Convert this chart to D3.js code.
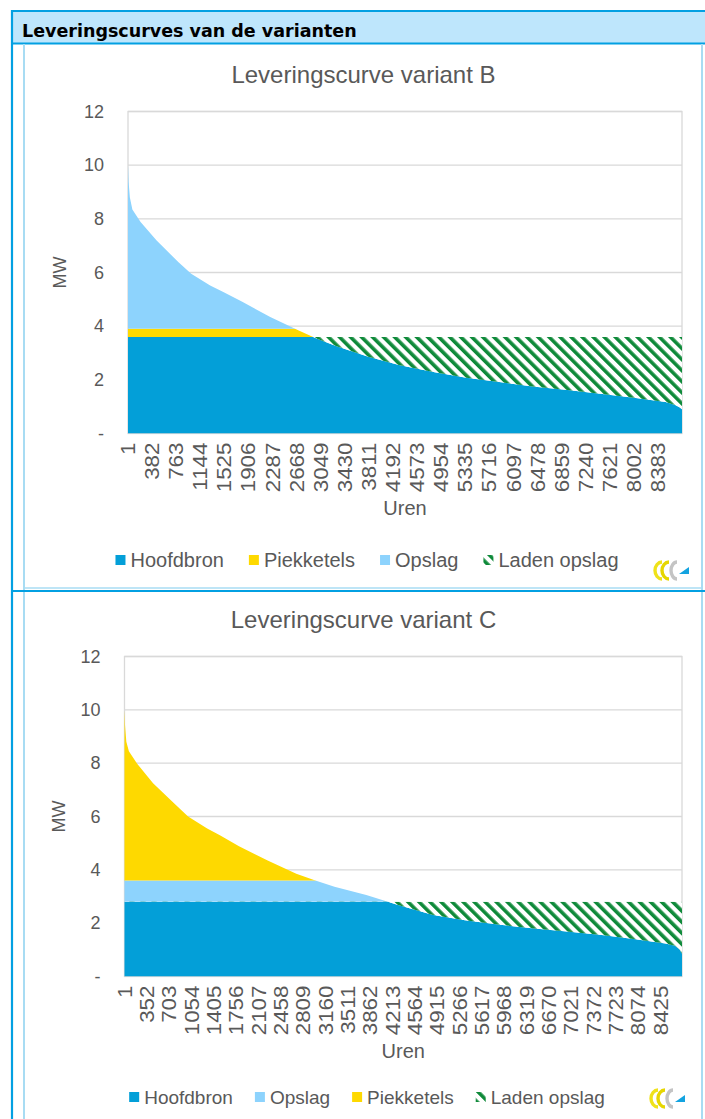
<!DOCTYPE html>
<html><head><meta charset="utf-8">
<script src="https://cdn.jsdelivr.net/npm/d3@7/dist/d3.min.js"></script>
<style>
body{margin:0;background:#fff;}
svg{display:block;}
</style>
</head><body>
<svg id="c" width="705" height="1119"></svg>
<script>
// ---- data ----
const hours   = [1,10,30,70,200,450,800,1000,1300,1500,1800,2250,2700,3000,3300,3800,4300,4850,5350,5900,6400,6950,7500,8000,8500,8650,8720,8760];
const demandB = [10.0,9.4,8.8,8.35,7.88,7.2,6.38,5.95,5.52,5.28,4.92,4.34,3.84,3.52,3.25,2.86,2.54,2.28,2.08,1.91,1.75,1.62,1.47,1.33,1.17,1.06,0.98,0.9];
const demandC = [10.0,9.4,8.8,8.45,7.98,7.25,6.45,6.0,5.55,5.3,4.88,4.35,3.85,3.6,3.37,3.06,2.68,2.31,2.11,1.94,1.81,1.69,1.56,1.41,1.24,1.15,1.02,0.85];
const yTicks  = [0,2,4,6,8,10,12];
const yTickLabels = ["-","2","4","6","8","10","12"];
const xLabelsB = [1,382,763,1144,1525,1906,2287,2668,3049,3430,3811,4192,4573,4954,5335,5716,6097,6478,6859,7240,7621,8002,8383];
const xLabelsC = [1,352,703,1054,1405,1756,2107,2458,2809,3160,3511,3862,4213,4564,4915,5266,5617,5968,6319,6670,7021,7372,7723,8074,8425];
// layer levels (MW): [series, from, to]
const bandsB = [["Hoofdbron",0,3.6],["Piekketels",3.6,3.9],["Opslag",3.9,12]];
const bandsC = [["Hoofdbron",0,2.8],["Opslag",2.8,3.6],["Piekketels",3.6,12]];
const chargeLevelB = 3.6;
const chargeLevelC = 2.8;
const legendB = ["Hoofdbron","Piekketels","Opslag","Laden opslag"];
const legendC = ["Hoofdbron","Opslag","Piekketels","Laden opslag"];
const colors = {"Hoofdbron":"#039fd8","Piekketels":"#fed900","Opslag":"#8dd3fd"};

const FONT = '"Liberation Sans", Arial, sans-serif';
const svg = d3.select("#c");
const defs = svg.append("defs");
const pat = defs.append("pattern").attr("id","hatch").attr("patternUnits","userSpaceOnUse")
  .attr("width",7.8).attr("height",7.8).attr("patternTransform","rotate(-45)");
pat.append("rect").attr("width",7.8).attr("height",7.8).attr("fill","#fff");
pat.append("rect").attr("width",3.6).attr("height",7.8).attr("fill","#0f8a3a");

// ---- frame ----
const darkBlue = "#03a0e2", lightBlue = "#a8dcf3";
svg.append("rect").attr("x",12).attr("y",11).attr("width",700).attr("height",32).attr("fill","#bee6fc");
svg.append("line").attr("x1",11).attr("x2",705).attr("y1",11).attr("y2",11).attr("stroke",darkBlue).attr("stroke-width",2.2);
svg.append("line").attr("x1",11).attr("x2",705).attr("y1",43.5).attr("y2",43.5).attr("stroke",darkBlue).attr("stroke-width",2.2);
svg.append("line").attr("x1",12).attr("x2",12).attr("y1",10).attr("y2",1119).attr("stroke",darkBlue).attr("stroke-width",2.2);
svg.append("line").attr("x1",24).attr("x2",24).attr("y1",44).attr("y2",1119).attr("stroke",lightBlue).attr("stroke-width",2);
svg.append("line").attr("x1",702).attr("x2",702).attr("y1",44).attr("y2",1119).attr("stroke",lightBlue).attr("stroke-width",2);
svg.append("line").attr("x1",24).attr("x2",702).attr("y1",588).attr("y2",588).attr("stroke",lightBlue).attr("stroke-width",1.5);
svg.append("line").attr("x1",11).attr("x2",705).attr("y1",591).attr("y2",591).attr("stroke",darkBlue).attr("stroke-width",2.2);
svg.append("text").attr("x",22).attr("y",37).style("font-family",'"DejaVu Sans", Verdana, sans-serif').attr("font-weight","bold")
  .attr("font-size",17.5).attr("fill","#000").text("Leveringscurves van de varianten");

function logo(x,y){
  const g = svg.append("g").attr("transform",`translate(${x},${y})`);
  g.append("path").attr("d","M10 1 A7 8.5 0 1 0 10 18").attr("fill","none").attr("stroke","#efe21a").attr("stroke-width",3.4);
  g.append("path").attr("d","M17 1 A7 8.5 0 1 0 17 18").attr("fill","none").attr("stroke","#e6d600").attr("stroke-width",3.4);
  g.append("path").attr("d","M25 1 A6 8.5 0 1 0 25 18").attr("fill","none").attr("stroke","#c4c4c4").attr("stroke-width",3.4);
  g.append("polygon").attr("points","27,13 37,13 37,6").attr("fill","#13a3e0");
}

function chart(cfg){
  const {id,title,titleY,left,right,top,bottom,demand,bands,charge,xLabels,legend,legendY,legendFont,legendGap,mwX} = cfg;
  const x = d3.scaleLinear().domain([1,8760]).range([left,right]);
  const y = d3.scaleLinear().domain([0,12]).range([bottom,top]);
  const g = svg.append("g").style("font-family",FONT);
  const grey = "#595959";
  g.append("text").attr("x",363.5).attr("y",titleY).attr("text-anchor","middle")
    .attr("font-size",24).attr("fill",grey).text(title);
  // gridlines
  g.selectAll(".grid").data(yTicks.filter(d=>d>0)).join("line")
    .attr("x1",left).attr("x2",right).attr("y1",d=>y(d)).attr("y2",d=>y(d))
    .attr("stroke","#d9d9d9").attr("stroke-width",1.3);
  g.append("rect").attr("x",left).attr("y",top).attr("width",right-left).attr("height",bottom-top)
    .attr("fill","none").attr("stroke","#d9d9d9").attr("stroke-width",1.3);
  const pts = hours.map((h,i)=>({h, v:demand[i]}));
  const area = d3.area().x(d=>x(d.h)).y0(y(0)).y1(d=>y(d.v));
  bands.forEach(([name,lo,hi],i)=>{
    const cid = `${id}-clip${i}`;
    defs.append("clipPath").attr("id",cid).append("rect")
      .attr("x",left-1).attr("width",right-left+2).attr("y",y(hi)).attr("height",y(lo)-y(hi));
    g.append("path").datum(pts).attr("d",area).attr("fill",colors[name]).attr("clip-path",`url(#${cid})`);
  });
  const cid2 = `${id}-clipH`;
  defs.append("clipPath").attr("id",cid2).append("rect")
    .attr("x",left-1).attr("width",right-left+2).attr("y",y(charge)).attr("height",y(0)-y(charge));
  const hatchArea = d3.area().x(d=>x(d.h)).y0(d=>y(d.v)).y1(y(charge));
  g.append("path").datum(pts).attr("d",hatchArea).attr("fill","url(#hatch)").attr("clip-path",`url(#${cid2})`);
  // y tick labels
  g.selectAll(".yl").data(yTicks).join("text")
    .attr("x",left-24).attr("y",d=>y(d)).attr("dy","0.35em").attr("text-anchor","end")
    .attr("font-size",18).attr("fill",grey).text((d,i)=>yTickLabels[i]);
  // x tick labels
  g.selectAll(".xl").data(xLabels).join("text")
    .attr("transform",d=>`translate(${x(d)},${bottom+9}) rotate(-90) scale(1.12,1)`).attr("dy","0.35em")
    .attr("text-anchor","end").attr("font-size",20).attr("fill",grey).text(d=>d);
  g.append("text").attr("x",(left+right)/2).attr("y",bottom+81).attr("text-anchor","middle")
    .attr("font-size",20).attr("fill",grey).text("Uren");
  g.append("text").attr("transform",`translate(${mwX},${(top+bottom)/2}) rotate(-90)`).attr("dy","0.35em")
    .attr("text-anchor","middle").attr("font-size",18).attr("fill",grey).text("MW");
  // legend
  const lg = g.append("g");
  let cx = 0;
  legend.forEach(name=>{
    const it = lg.append("g").attr("transform",`translate(${cx},0)`);
    it.append("rect").attr("x",0).attr("y",legendY-5).attr("width",10).attr("height",10)
      .attr("fill", name==="Laden opslag" ? "url(#hatch)" : colors[name]);
    const t = it.append("text").attr("x",15).attr("y",legendY).attr("dy","0.35em")
      .attr("font-size",legendFont).attr("fill",grey).text(name);
    const w = t.node().getComputedTextLength();
    cx += 15 + w + legendGap;
  });
  const total = cx - legendGap;
  lg.attr("transform",`translate(${367-total/2},0)`);
}

chart({id:"b",title:"Leveringscurve variant B",titleY:83,left:128,right:682,top:111.5,bottom:433.5,
  demand:demandB,bands:bandsB,charge:chargeLevelB,xLabels:xLabelsB,legend:legendB,legendY:560,
  legendFont:20,legendGap:25,mwX:60});
chart({id:"c",title:"Leveringscurve variant C",titleY:628,left:124.5,right:682,top:656.5,bottom:976.5,
  demand:demandC,bands:bandsC,charge:chargeLevelC,xLabels:xLabelsC,legend:legendC,legendY:1097,
  legendFont:19,legendGap:22,mwX:59});
logo(652,561);
logo(648,1089);
</script>
</body></html>
